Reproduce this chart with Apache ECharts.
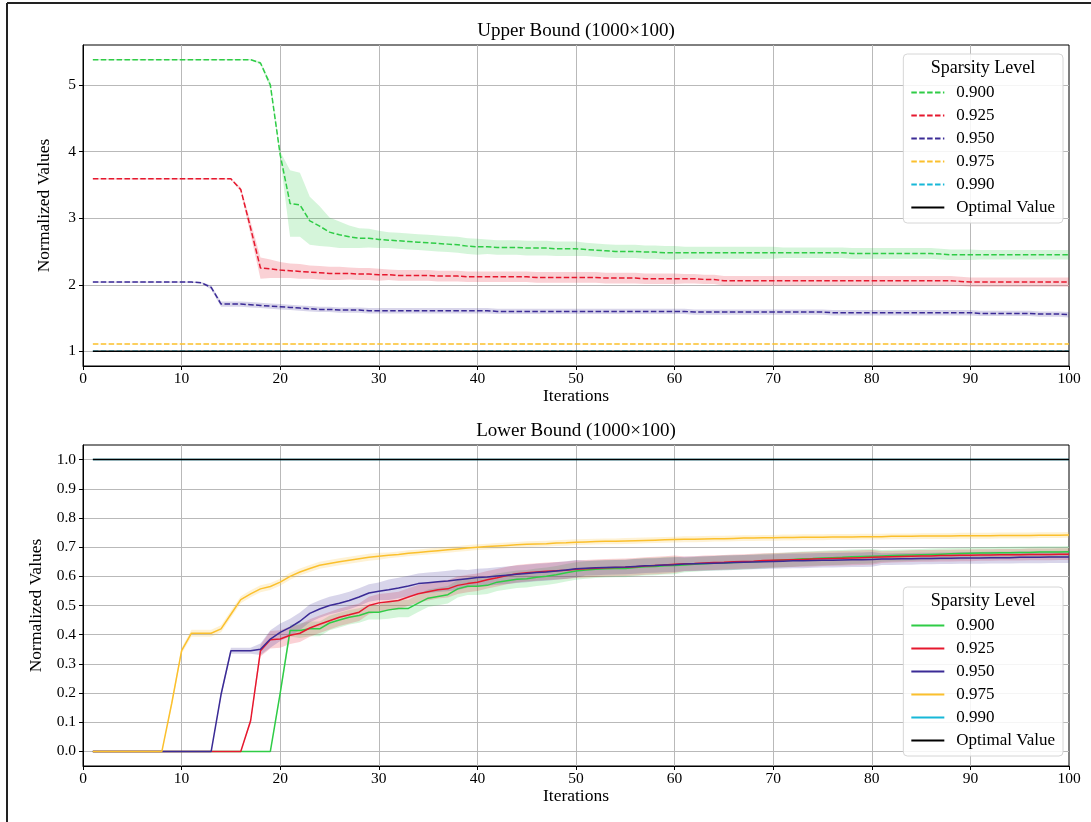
<!DOCTYPE html>
<html><head><meta charset="utf-8">
<script src="https://cdn.jsdelivr.net/npm/echarts@6/dist/echarts.min.js"></script>
<style>html,body{margin:0;padding:0;background:#fff}#c{width:1091px;height:822px}</style>
</head><body><div id="c"></div><script>
// ---------- DATA ----------
const levels = ['0.900', '0.925', '0.950', '0.975', '0.990'];
const optimalName = 'Optimal Value';
const xTicks = [0, 10, 20, 30, 40, 50, 60, 70, 80, 90, 100];
const ubTicks = [1, 2, 3, 4, 5];
const lbTicks = [0, 0.1, 0.2, 0.3, 0.4, 0.5, 0.6, 0.7, 0.8, 0.9, 1.0];
const iterations = Array.from({length: 100}, (_, i) => i + 1);

// Upper bound (means)
const ub900 = [
5.38,5.38,5.38,5.38,5.38,5.38,5.38,5.38,5.38,5.38,
5.38,5.38,5.38,5.38,5.38,5.38,5.38,5.33,5.00,3.95,
3.22,3.20,2.96,2.88,2.79,2.75,2.72,2.70,2.70,2.68,
2.67,2.66,2.65,2.64,2.63,2.62,2.61,2.60,2.58,2.57,
2.57,2.56,2.56,2.56,2.55,2.55,2.55,2.54,2.54,2.54,
2.53,2.52,2.51,2.50,2.50,2.50,2.49,2.49,2.48,2.48,
2.48,2.48,2.48,2.48,2.48,2.48,2.48,2.48,2.48,2.48,
2.48,2.48,2.48,2.48,2.48,2.48,2.48,2.47,2.47,2.47,
2.47,2.47,2.47,2.47,2.47,2.47,2.46,2.45,2.45,2.45,
2.45,2.45,2.45,2.45,2.45,2.45,2.45,2.45,2.45,2.45];
const ub925 = [
3.59,3.59,3.59,3.59,3.59,3.59,3.59,3.59,3.59,3.59,
3.59,3.59,3.59,3.59,3.59,3.43,2.85,2.25,2.24,2.22,
2.21,2.20,2.19,2.18,2.17,2.17,2.17,2.16,2.16,2.15,
2.15,2.14,2.14,2.14,2.14,2.13,2.13,2.13,2.12,2.12,
2.12,2.12,2.12,2.12,2.12,2.11,2.11,2.11,2.11,2.11,
2.11,2.11,2.10,2.10,2.10,2.10,2.09,2.09,2.09,2.09,
2.09,2.09,2.08,2.08,2.06,2.06,2.06,2.06,2.06,2.06,
2.06,2.06,2.06,2.06,2.06,2.06,2.06,2.06,2.06,2.06,
2.06,2.06,2.06,2.06,2.06,2.06,2.06,2.06,2.05,2.04,
2.04,2.04,2.04,2.04,2.04,2.04,2.04,2.04,2.04,2.04];
const ub950 = [
2.04,2.04,2.04,2.04,2.04,2.04,2.04,2.04,2.04,2.04,
2.04,2.03,1.96,1.71,1.71,1.71,1.70,1.69,1.68,1.67,
1.66,1.65,1.64,1.63,1.63,1.62,1.62,1.62,1.61,1.61,
1.61,1.61,1.61,1.61,1.61,1.61,1.61,1.61,1.61,1.61,
1.61,1.60,1.60,1.60,1.60,1.60,1.60,1.60,1.60,1.60,
1.60,1.60,1.60,1.60,1.60,1.60,1.60,1.60,1.60,1.60,
1.60,1.59,1.59,1.59,1.59,1.59,1.59,1.59,1.59,1.59,
1.59,1.59,1.59,1.59,1.59,1.58,1.58,1.58,1.58,1.58,
1.58,1.58,1.58,1.58,1.58,1.58,1.58,1.58,1.58,1.58,
1.57,1.57,1.57,1.57,1.57,1.57,1.56,1.56,1.56,1.55];
const ub975 = [
1.11,1.11,1.11,1.11,1.11,1.11,1.11,1.11,1.11,1.11,
1.11,1.11,1.11,1.11,1.11,1.11,1.11,1.11,1.11,1.11,
1.11,1.11,1.11,1.11,1.11,1.11,1.11,1.11,1.11,1.11,
1.11,1.11,1.11,1.11,1.11,1.11,1.11,1.11,1.11,1.11,
1.11,1.11,1.11,1.11,1.11,1.11,1.11,1.11,1.11,1.11,
1.11,1.11,1.11,1.11,1.11,1.11,1.11,1.11,1.11,1.11,
1.11,1.11,1.11,1.11,1.11,1.11,1.11,1.11,1.11,1.11,
1.11,1.11,1.11,1.11,1.11,1.11,1.11,1.11,1.11,1.11,
1.11,1.11,1.11,1.11,1.11,1.11,1.11,1.11,1.11,1.11,
1.11,1.11,1.11,1.11,1.11,1.11,1.11,1.11,1.11,1.11];
const ones = [
1,1,1,1,1,1,1,1,1,1, 1,1,1,1,1,1,1,1,1,1,
1,1,1,1,1,1,1,1,1,1, 1,1,1,1,1,1,1,1,1,1,
1,1,1,1,1,1,1,1,1,1, 1,1,1,1,1,1,1,1,1,1,
1,1,1,1,1,1,1,1,1,1, 1,1,1,1,1,1,1,1,1,1,
1,1,1,1,1,1,1,1,1,1, 1,1,1,1,1,1,1,1,1,1];
const ub990 = ones;
const ubOptimal = ones;

// Upper bound (std bands)
const ub900sd = [
0.01,0.01,0.01,0.01,0.01,0.01,0.01,0.01,0.01,0.01,
0.01,0.01,0.01,0.01,0.01,0.01,0.01,0.02,0.05,0.05,
0.50,0.48,0.36,0.30,0.22,0.20,0.17,0.15,0.14,0.13,
0.12,0.12,0.12,0.12,0.12,0.12,0.12,0.12,0.12,0.12,
0.11,0.11,0.11,0.11,0.11,0.11,0.11,0.11,0.11,0.11,
0.10,0.10,0.10,0.10,0.10,0.10,0.10,0.10,0.10,0.10,
0.09,0.09,0.09,0.09,0.09,0.09,0.09,0.09,0.09,0.09,
0.08,0.08,0.08,0.08,0.08,0.08,0.08,0.08,0.08,0.08,
0.08,0.08,0.08,0.08,0.08,0.08,0.08,0.08,0.08,0.08,
0.07,0.07,0.07,0.07,0.07,0.07,0.07,0.07,0.07,0.07];
const ub925sd = [
0.01,0.01,0.01,0.01,0.01,0.01,0.01,0.01,0.01,0.01,
0.01,0.01,0.01,0.01,0.01,0.03,0.10,0.16,0.14,0.12,
0.11,0.11,0.10,0.10,0.10,0.10,0.09,0.09,0.09,0.09,
0.08,0.08,0.08,0.08,0.08,0.08,0.08,0.08,0.08,0.08,
0.08,0.08,0.08,0.08,0.08,0.08,0.08,0.08,0.08,0.08,
0.08,0.08,0.08,0.08,0.08,0.08,0.08,0.08,0.08,0.08,
0.07,0.07,0.07,0.07,0.07,0.07,0.07,0.07,0.07,0.07,
0.07,0.07,0.07,0.07,0.07,0.07,0.07,0.07,0.07,0.07,
0.07,0.07,0.07,0.07,0.07,0.07,0.07,0.07,0.07,0.07,
0.07,0.07,0.07,0.07,0.07,0.07,0.07,0.07,0.07,0.07];
const ub950sd = [
0.01,0.01,0.01,0.01,0.01,0.01,0.01,0.01,0.01,0.01,
0.01,0.01,0.03,0.04,0.04,0.04,0.04,0.04,0.04,0.04,
0.04,0.04,0.04,0.04,0.04,0.04,0.04,0.04,0.04,0.04,
0.04,0.04,0.04,0.04,0.04,0.04,0.04,0.04,0.04,0.04,
0.04,0.04,0.04,0.04,0.04,0.04,0.04,0.04,0.04,0.04,
0.04,0.04,0.04,0.04,0.04,0.04,0.04,0.04,0.04,0.04,
0.04,0.04,0.04,0.04,0.04,0.04,0.04,0.04,0.04,0.04,
0.04,0.04,0.04,0.04,0.04,0.04,0.04,0.04,0.04,0.04,
0.04,0.04,0.04,0.04,0.04,0.04,0.04,0.04,0.04,0.04,
0.04,0.04,0.04,0.04,0.04,0.04,0.04,0.04,0.04,0.04];
const ub975sd = [
0.005,0.005,0.005,0.005,0.005,0.005,0.005,0.005,0.005,0.005,
0.005,0.005,0.005,0.005,0.005,0.005,0.005,0.005,0.005,0.005,
0.005,0.005,0.005,0.005,0.005,0.005,0.005,0.005,0.005,0.005,
0.005,0.005,0.005,0.005,0.005,0.005,0.005,0.005,0.005,0.005,
0.005,0.005,0.005,0.005,0.005,0.005,0.005,0.005,0.005,0.005,
0.005,0.005,0.005,0.005,0.005,0.005,0.005,0.005,0.005,0.005,
0.005,0.005,0.005,0.005,0.005,0.005,0.005,0.005,0.005,0.005,
0.005,0.005,0.005,0.005,0.005,0.005,0.005,0.005,0.005,0.005,
0.005,0.005,0.005,0.005,0.005,0.005,0.005,0.005,0.005,0.005,
0.005,0.005,0.005,0.005,0.005,0.005,0.005,0.005,0.005,0.005];

// Lower bound (means)
const lb900 = [
0,0,0,0,0,0,0,0,0,0,
0,0,0,0,0,0,0,0,0,0.20,
0.414,0.414,0.42,0.42,0.44,0.45,0.46,0.466,0.477,0.477,
0.485,0.49,0.49,0.508,0.525,0.531,0.537,0.557,0.566,0.566,
0.569,0.58,0.585,0.59,0.592,0.597,0.60,0.605,0.612,0.618,
0.622,0.624,0.626,0.627,0.627,0.630,0.633,0.634,0.636,0.637,
0.639,0.641,0.643,0.645,0.646,0.647,0.648,0.650,0.652,0.654,
0.656,0.658,0.660,0.661,0.663,0.664,0.665,0.667,0.668,0.669,
0.670,0.671,0.672,0.673,0.674,0.675,0.676,0.677,0.678,0.679,
0.680,0.680,0.681,0.681,0.682,0.682,0.683,0.683,0.683,0.684];
const lb925 = [
0,0,0,0,0,0,0,0,0,0,
0,0,0,0,0,0,0.105,0.345,0.383,0.385,
0.398,0.405,0.423,0.436,0.448,0.46,0.468,0.477,0.50,0.509,
0.513,0.517,0.529,0.54,0.547,0.554,0.557,0.569,0.575,0.58,
0.588,0.595,0.603,0.609,0.612,0.615,0.617,0.619,0.621,0.624,
0.626,0.628,0.629,0.630,0.631,0.633,0.635,0.637,0.639,0.641,
0.643,0.644,0.646,0.647,0.648,0.650,0.651,0.652,0.654,0.655,
0.656,0.657,0.658,0.659,0.660,0.661,0.662,0.663,0.664,0.665,
0.666,0.667,0.668,0.669,0.670,0.670,0.671,0.671,0.672,0.672,
0.673,0.673,0.674,0.674,0.674,0.675,0.675,0.675,0.676,0.676];
const lb950 = [
0,0,0,0,0,0,0,0,0,0,
0,0,0,0.195,0.345,0.345,0.345,0.35,0.385,0.408,
0.425,0.446,0.473,0.488,0.50,0.508,0.517,0.529,0.543,0.549,
0.554,0.56,0.567,0.575,0.578,0.581,0.584,0.588,0.592,0.596,
0.598,0.601,0.604,0.607,0.61,0.613,0.615,0.618,0.622,0.626,
0.628,0.629,0.630,0.631,0.632,0.634,0.636,0.637,0.639,0.640,
0.642,0.643,0.644,0.645,0.646,0.647,0.648,0.649,0.650,0.651,
0.652,0.653,0.653,0.654,0.655,0.655,0.656,0.657,0.657,0.658,
0.659,0.659,0.660,0.660,0.661,0.661,0.662,0.662,0.663,0.663,
0.663,0.664,0.664,0.664,0.665,0.665,0.665,0.666,0.666,0.666];
const lb975 = [
0,0,0,0,0,0,0,0,0.165,0.345,
0.405,0.405,0.405,0.42,0.47,0.52,0.54,0.557,0.565,0.58,
0.60,0.615,0.627,0.638,0.644,0.65,0.655,0.66,0.665,0.669,
0.672,0.675,0.679,0.682,0.685,0.688,0.691,0.694,0.697,0.700,
0.702,0.704,0.706,0.708,0.710,0.711,0.712,0.714,0.715,0.717,
0.718,0.719,0.720,0.720,0.721,0.722,0.723,0.724,0.725,0.726,
0.727,0.727,0.728,0.729,0.729,0.730,0.731,0.731,0.732,0.732,
0.733,0.733,0.734,0.734,0.734,0.735,0.735,0.735,0.736,0.736,
0.736,0.737,0.737,0.737,0.738,0.738,0.738,0.738,0.739,0.739,
0.739,0.739,0.740,0.740,0.740,0.740,0.741,0.741,0.741,0.742];
const lb990 = ones;
const lbOptimal = ones;

// Lower bound (std bands)
const lb900sd = [
0,0,0,0,0,0,0,0,0,0,
0,0,0,0,0,0,0,0,0,0.01,
0.02,0.025,0.025,0.025,0.025,0.025,0.025,0.025,0.025,0.025,
0.03,0.03,0.03,0.03,0.03,0.03,0.03,0.03,0.03,0.03,
0.03,0.03,0.03,0.03,0.03,0.03,0.03,0.03,0.03,0.03,
0.03,0.03,0.03,0.03,0.03,0.03,0.03,0.03,0.03,0.03,
0.025,0.025,0.025,0.025,0.025,0.025,0.025,0.025,0.025,0.025,
0.025,0.025,0.025,0.025,0.025,0.025,0.025,0.025,0.025,0.025,
0.02,0.02,0.02,0.02,0.02,0.02,0.02,0.02,0.02,0.02,
0.02,0.02,0.02,0.02,0.02,0.02,0.02,0.02,0.02,0.02];
const lb925sd = [
0,0,0,0,0,0,0,0,0,0,
0,0,0,0,0,0,0.01,0.02,0.03,0.03,
0.03,0.03,0.03,0.03,0.03,0.03,0.03,0.03,0.03,0.03,
0.03,0.03,0.03,0.03,0.03,0.03,0.03,0.03,0.03,0.03,
0.03,0.03,0.03,0.03,0.03,0.03,0.03,0.03,0.03,0.03,
0.03,0.03,0.03,0.03,0.03,0.03,0.03,0.03,0.03,0.03,
0.025,0.025,0.025,0.025,0.025,0.025,0.025,0.025,0.025,0.025,
0.025,0.025,0.025,0.025,0.025,0.025,0.025,0.025,0.025,0.025,
0.02,0.02,0.02,0.02,0.02,0.02,0.02,0.02,0.02,0.02,
0.02,0.02,0.02,0.02,0.02,0.02,0.02,0.02,0.02,0.02];
const lb950sd = [
0,0,0,0,0,0,0,0,0,0,
0,0,0,0.01,0.01,0.01,0.01,0.02,0.03,0.03,
0.03,0.03,0.03,0.03,0.03,0.03,0.03,0.03,0.03,0.03,
0.035,0.035,0.035,0.035,0.035,0.035,0.035,0.035,0.03,0.03,
0.03,0.03,0.03,0.03,0.03,0.03,0.03,0.03,0.03,0.03,
0.025,0.025,0.025,0.025,0.025,0.025,0.025,0.025,0.025,0.025,
0.025,0.025,0.025,0.025,0.025,0.025,0.025,0.025,0.025,0.025,
0.025,0.025,0.025,0.025,0.025,0.025,0.025,0.025,0.025,0.025,
0.02,0.02,0.02,0.02,0.02,0.02,0.02,0.02,0.02,0.02,
0.02,0.02,0.02,0.02,0.02,0.02,0.02,0.02,0.02,0.02];
const lb975sd = [
0,0,0,0,0,0,0,0,0.01,0.01,
0.012,0.012,0.012,0.012,0.012,0.012,0.012,0.012,0.012,0.012,
0.012,0.012,0.012,0.012,0.012,0.012,0.012,0.012,0.012,0.012,
0.01,0.01,0.01,0.01,0.01,0.01,0.01,0.01,0.01,0.01,
0.01,0.01,0.01,0.01,0.01,0.01,0.01,0.01,0.01,0.01,
0.01,0.01,0.01,0.01,0.01,0.01,0.01,0.01,0.01,0.01,
0.01,0.01,0.01,0.01,0.01,0.01,0.01,0.01,0.01,0.01,
0.01,0.01,0.01,0.01,0.01,0.01,0.01,0.01,0.01,0.01,
0.01,0.01,0.01,0.01,0.01,0.01,0.01,0.01,0.01,0.01,
0.01,0.01,0.01,0.01,0.01,0.01,0.01,0.01,0.01,0.01];

// ---------- STYLE ----------
const FONT = 'Liberation Serif';
const colors = ['#2fcc46', '#e6182e', '#3b2b96', '#fbc02d', '#17b8d8'];
const ubMeans = [ub900, ub925, ub950, ub975, ub990];
const ubStds = [ub900sd, ub925sd, ub950sd, ub975sd, null];
const lbMeans = [lb900, lb925, lb950, lb975, lb990];
const lbStds = [lb900sd, lb925sd, lb950sd, lb975sd, null];

function rgba(hex, a) {
  const n = parseInt(hex.slice(1), 16);
  return 'rgba(' + (n >> 16 & 255) + ',' + (n >> 8 & 255) + ',' + (n & 255) + ',' + a + ')';
}
function lineSeries(name, ys, color, dashed, idx, z) {
  return {
    type: 'line', name, xAxisIndex: idx, yAxisIndex: idx,
    data: iterations.map((x, i) => [x, ys[i]]),
    symbol: 'none', showSymbol: false, silent: true, z,
    lineStyle: {color, width: 1.5, type: dashed ? [5.5, 2.4] : 'solid'},
    itemStyle: {color}
  };
}
function bandSeries(name, ys, sd, color, idx) {
  const data = iterations.map((x, i) => [x, ys[i] - sd[i], ys[i] + sd[i]]);
  return {
    type: 'custom', name, xAxisIndex: idx, yAxisIndex: idx, data,
    encode: {x: 0, y: [1, 2]}, z: 1, silent: true,
    renderItem: (params, api) => {
      if (params.dataIndex !== 0) return null;
      const up = data.map(d => api.coord([d[0], d[2]]));
      const lo = data.map(d => api.coord([d[0], d[1]])).reverse();
      return {type: 'polygon', shape: {points: up.concat(lo)}, style: {fill: rgba(color, 0.2), stroke: null}};
    }
  };
}

const series = [];
[['ub ', ubMeans, ubStds, ubOptimal, true, 0], ['lb ', lbMeans, lbStds, lbOptimal, false, 1]].forEach(([p, means, stds, opt, dashed, idx]) => {
  levels.forEach((lv, k) => {
    if (stds[k]) series.push(bandSeries(p + 'band ' + lv, means[k], stds[k], colors[k], idx));
    series.push(lineSeries(p + lv, means[k], colors[k], dashed, idx, 2 + k));
  });
  series.push(lineSeries(p + optimalName, opt, '#000000', false, idx, 10));
});

const txt = {fontFamily: FONT, color: '#000'};
function xAxis(idx) {
  return {
    type: 'value', gridIndex: idx, min: 0, max: 100, interval: 10,
    axisLine: {show: true, onZero: false, lineStyle: {color: '#000', width: 1}},
    axisTick: {show: true, length: 4, lineStyle: {color: '#000', width: 1}},
    axisLabel: Object.assign({fontSize: 15.5, margin: 5}, txt),
    splitLine: {show: true, showMinLine: false, showMaxLine: false, lineStyle: {color: '#b9b9b9', width: 1}},
    name: 'Iterations', nameLocation: 'middle', nameGap: 20,
    nameTextStyle: Object.assign({fontSize: 17.5}, txt)
  };
}
function yAxis(idx, min, max, split, ticks, fmt) {
  return {
    type: 'value', gridIndex: idx, min, max, splitNumber: split,
    axisLine: {show: true, onZero: false, lineStyle: {color: '#000', width: 1}},
    axisTick: {show: true, length: 4, customValues: ticks, lineStyle: {color: '#000', width: 1}},
    axisLabel: Object.assign({fontSize: 15.5, margin: 7, customValues: ticks, formatter: fmt}, txt),
    splitLine: {show: true, lineStyle: {color: '#b9b9b9', width: 1}},
    name: 'Normalized Values', nameLocation: 'middle', nameGap: 30,
    nameTextStyle: Object.assign({fontSize: 17.5}, txt)
  };
}
function legend(prefix, top) {
  return {
    data: levels.map(l => prefix + l).concat([prefix + optimalName]),
    formatter: n => n.slice(3),
    orient: 'vertical', right: 28, top,
    padding: [30, 8, 7, 7], itemGap: 6, itemWidth: 33, itemHeight: 16,
    backgroundColor: 'rgba(255,255,255,0.85)', borderColor: '#d6d6d6', borderWidth: 1, borderRadius: 4,
    textStyle: Object.assign({fontSize: 17, lineHeight: 16, padding: [0, 0, 0, 7]}, txt),
    itemStyle: {color: 'rgba(0,0,0,0)', borderColor: 'rgba(0,0,0,0)', borderWidth: 0},
    selectedMode: false, z: 20
  };
}

const chart = echarts.init(document.getElementById('c'), null, {renderer: 'canvas'});
chart.setOption({
  animation: false,
  backgroundColor: '#ffffff',
  textStyle: {fontFamily: FONT},
  title: [
    {text: 'Upper Bound (1000×100)', left: 576, top: 22, textAlign: 'center', padding: 0,
     textStyle: Object.assign({fontSize: 19, fontWeight: 'normal'}, txt)},
    {text: 'Lower Bound (1000×100)', left: 576, top: 422, textAlign: 'center', padding: 0,
     textStyle: Object.assign({fontSize: 19, fontWeight: 'normal'}, txt)}
  ],
  grid: [
    {left: 83, right: 22, top: 45, height: 321, show: true, borderColor: '#000', borderWidth: 1, backgroundColor: 'transparent'},
    {left: 83, right: 22, top: 445, height: 321, show: true, borderColor: '#000', borderWidth: 1, backgroundColor: 'transparent'}
  ],
  xAxis: [xAxis(0), xAxis(1)],
  yAxis: [
    yAxis(0, 0.78, 5.6, 5, ubTicks, v => String(v)),
    yAxis(1, -0.05, 1.05, 11, lbTicks, v => v.toFixed(1))
  ],
  legend: [legend('ub ', 54), legend('lb ', 587)],
  graphic: [
    {type: 'text', z: 100, style: {text: 'Sparsity Level', x: 983, y: 68, align: 'center', verticalAlign: 'middle', font: '18px "Liberation Serif"', fill: '#000'}},
    {type: 'text', z: 100, style: {text: 'Sparsity Level', x: 983, y: 601, align: 'center', verticalAlign: 'middle', font: '18px "Liberation Serif"', fill: '#000'}},
    {type: 'line', z: 100, shape: {x1: 7, y1: 3, x2: 1091, y2: 3}, style: {stroke: '#222', lineWidth: 2}},
    {type: 'line', z: 100, shape: {x1: 7, y1: 3, x2: 7, y2: 822}, style: {stroke: '#222', lineWidth: 2}}
  ],
  series
});
</script></body></html>
